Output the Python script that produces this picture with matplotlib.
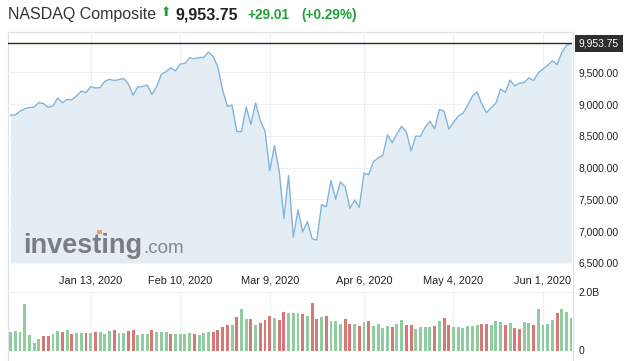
import matplotlib.pyplot as plt
import pandas as pd
from matplotlib.patches import Rectangle

# daily closes, Dec 17 2019 .. Jun 9 2020
closes = [
    8823.36, 8827.74, 8887.22, 8924.96, 8945.65, 8952.88, 9022.39, 9006.62, 8945.99, 8972.60,
    9092.19, 9020.77, 9071.46, 9068.58, 9129.24, 9203.43, 9178.86, 9273.93, 9251.33, 9258.70,
    9357.13, 9388.94, 9370.81, 9383.77, 9402.48, 9314.91, 9139.31, 9269.68, 9275.16, 9298.93,
    9150.94, 9273.40, 9467.97, 9508.68, 9572.15, 9520.51, 9628.39, 9638.94, 9725.96, 9711.97,
    9731.18, 9732.74, 9817.18, 9750.97, 9576.59, 9221.28, 8965.61, 8980.78, 8566.48, 8567.37,
    8952.17, 8684.09, 9018.09, 8738.59, 8575.62, 7950.68, 8344.25, 7952.05, 7201.80, 7874.88,
    6904.59, 7334.78, 6989.84, 7150.58, 6879.52, 6860.67, 7417.86, 7384.30, 7797.54, 7502.38,
    7774.15, 7700.10, 7360.58, 7487.31, 7373.08, 7913.24, 7887.26, 8090.90, 8153.58, 8192.42,
    8515.74, 8393.18, 8532.36, 8650.14, 8560.73, 8263.23, 8495.38, 8494.75, 8634.52, 8730.16,
    8607.73, 8914.71, 8889.55, 8604.95, 8710.72, 8809.12, 8854.39, 8979.66, 9121.32, 9192.34,
    9002.55, 8863.17, 8943.72, 9014.56, 9234.83, 9185.10, 9375.78, 9284.88, 9324.59, 9340.22,
    9412.36, 9368.99, 9489.87, 9552.05, 9608.38, 9682.91, 9615.81, 9814.08, 9924.75, 9953.75,
]

# volume in billions
volumes = [
    0.62, 0.66, 0.64, 1.60, 0.54, 0.27, 0.40, 0.48, 0.50, 0.57,
    0.66, 0.64, 0.71, 0.57, 0.61, 0.61, 0.61, 0.61, 0.64, 0.62,
    0.58, 0.66, 0.71, 0.61, 0.61, 0.65, 0.71, 0.54, 0.57, 0.57,
    0.71, 0.64, 0.62, 0.63, 0.57, 0.57, 0.57, 0.57, 0.61, 0.57,
    0.54, 0.59, 0.62, 0.64, 0.71, 0.80, 0.88, 0.88, 1.15, 1.42,
    1.09, 1.09, 0.88, 0.93, 1.05, 1.19, 1.12, 1.05, 1.33, 1.27,
    1.27, 1.29, 1.25, 1.19, 1.63, 1.09, 1.15, 1.19, 1.02, 1.02,
    0.91, 1.09, 0.91, 0.91, 0.85, 0.98, 1.02, 0.85, 0.91, 0.78,
    0.85, 0.81, 0.91, 1.05, 0.88, 0.88, 0.74, 0.81, 0.81, 0.81,
    0.85, 1.02, 1.12, 0.88, 0.81, 0.81, 0.78, 0.85, 0.85, 0.88,
    0.91, 0.91, 0.88, 1.02, 0.98, 0.88, 0.95, 0.78, 0.74, 0.98,
    0.95, 0.88, 1.43, 0.88, 0.91, 1.05, 1.29, 1.42, 1.33, 1.12,
]
# bar colour per day: g = green, r = red
bar_dirs = (
    "gggggggrrg" "grgrggrgrg" "ggrggrrggg" "rgggrggggr"
    "gggrrrrgrg" "grgrrrgrrg" "ggrgrr"
    "grgggrrgrg" "rggggrggrr" "ggggrgrrgg" "ggggrrgggr"
    "grrggrgggg" "rggg"
)

tick_dates = ["2020-01-13", "2020-02-10", "2020-03-09", "2020-04-06", "2020-05-04", "2020-06-01"]
holidays = ["2019-12-25", "2020-01-01", "2020-01-20", "2020-02-17", "2020-04-10", "2020-05-25"]
dates = pd.bdate_range("2019-12-17", "2020-06-09", freq="C", holidays=holidays)

last = closes[-1]
change = 29.01
change_pct = 0.29

plt.rcParams["font.family"] = ["Liberation Sans", "DejaVu Sans"]

W, H = 641, 361
fig = plt.figure(figsize=(W / 100, H / 100), dpi=100)

x = list(range(len(closes)))
xlim = (-0.55, len(closes) - 0.85)
tick_pos = [dates.get_loc(pd.Timestamp(d)) for d in tick_dates]
tick_lab = [pd.Timestamp(d).strftime("%b %-d, %Y") for d in tick_dates]

# outer frame
frame = fig.add_axes([8 / W, 0, 565 / W, 1 - 32 / H])
frame.set_xticks([])
frame.set_yticks([])
frame.spines["bottom"].set_visible(False)
for s in ["left", "right", "top"]:
    frame.spines[s].set_color("#dde3ea")
    frame.spines[s].set_linewidth(0.9)
frame.patch.set_alpha(0)

grid_c = "#eef1f4"

# price panel
ax = fig.add_axes([8 / W, 1 - 263 / H, 564 / W, 231 / H])
ax.patch.set_alpha(0)
ax.fill_between(x, closes, 6500, color="#e4edf3", lw=0)
ax.plot(x, closes, color="#80b4dc", lw=1)
ax.axhline(last, color="#2b2b2b", lw=1)
ax.set_xlim(xlim)
ax.set_ylim(6500, 10133)
yt = [6500, 7000, 7500, 8000, 8500, 9000, 9500]
ax.set_yticks(yt)
ax.set_yticklabels([f"{v:,.2f}" for v in yt])
ax.yaxis.tick_right()
ax.set_xticks(tick_pos)
ax.set_xticklabels(tick_lab)
ax.tick_params(axis="y", length=0, pad=4.5, labelsize=7.4, labelcolor="#222222")
ax.tick_params(axis="x", length=0, pad=9, labelsize=7.9, labelcolor="#222222")
ax.grid(True, color=grid_c, lw=0.8)
ax.set_axisbelow(True)
for s in ax.spines.values():
    s.set_visible(False)

ax.annotate(f"{last:,.2f}", xy=(1, last), xycoords=("axes fraction", "data"),
            xytext=(5, 0), textcoords="offset points", ha="left", va="center",
            fontsize=7.4, color="white",
            bbox=dict(boxstyle="square,pad=0.35", fc="#2e2e2e", ec="none"))

# watermark
ax.text(0.0266, 0.045, "investing", transform=ax.transAxes, fontsize=19.5,
        fontweight="bold", color="#7a7d82", va="baseline")
ax.text(0.2394, 0.045, ".com", transform=ax.transAxes, fontsize=13.5,
        color="#85888c", va="baseline")
ax.add_patch(Rectangle((0.158, 0.125), 0.009, 0.016, transform=ax.transAxes,
                       color="#e8a95c", lw=0))

# volume panel
axv = fig.add_axes([8 / W, 1 - 350.5 / H, 564 / W, 58.5 / H])
axv.patch.set_alpha(0)
colors = ["#8fcca0" if d == "g" else "#d67878" for d in bar_dirs]
axv.bar(x, volumes, width=0.62, color=colors, lw=0)
axv.set_xlim(xlim)
axv.set_ylim(0, 2.0)
axv.set_yticks([0, 2.0])
axv.set_yticklabels(["0", "2.0B"])
axv.yaxis.tick_right()
axv.set_xticks(tick_pos)
axv.set_xticklabels([])
axv.tick_params(axis="y", length=0, pad=4.5, labelsize=7.4, labelcolor="#222222")
axv.tick_params(axis="x", length=0)
axv.grid(True, axis="x", color=grid_c, lw=0.8)
axv.set_axisbelow(True)
for s in axv.spines.values():
    s.set_visible(False)
axv.axhline(2.0, color=grid_c, lw=0.8)

# header
y_head = 1 - 15 / H
fig.text(8 / W, y_head, "NASDAQ Composite", fontsize=11.5, color="#333333", va="center")
fig.text(166.5 / W, 1 - 12 / H, "⬆", fontsize=9, color="#22a038", ha="center", va="center",
         family=["DejaVu Sans"])
fig.text(175 / W, y_head, f"{last:,.2f}", fontsize=11.5, fontweight="bold", color="#222222", va="center")
fig.text(247 / W, y_head, f"+{change:.2f}", fontsize=9.8, fontweight="bold", color="#22a038", va="center")
fig.text(301 / W, y_head, f"(+{change_pct:.2f}%)", fontsize=9.8, fontweight="bold", color="#22a038", va="center")

fig.savefig("out.png", dpi=100)
